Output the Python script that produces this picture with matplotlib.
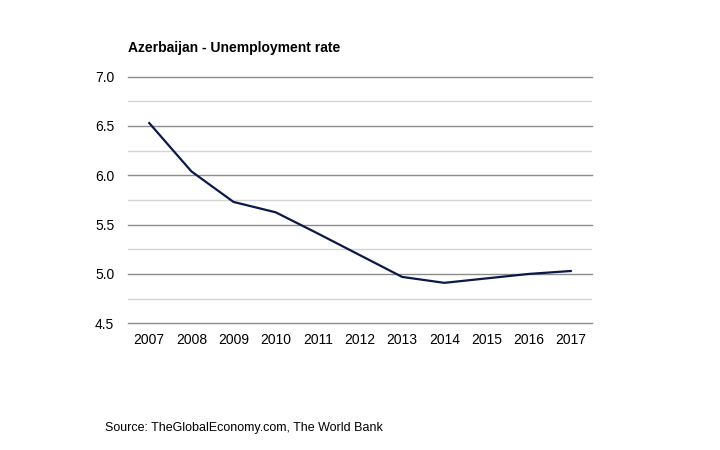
import matplotlib.pyplot as plt
import numpy as np

plt.rcParams['font.family'] = ['Liberation Sans', 'DejaVu Sans']

years = ['2007', '2008', '2009', '2010', '2011', '2012', '2013', '2014', '2015', '2016', '2017']
unemployment = [6.53, 6.04, 5.73, 5.625, 5.41, 5.19, 4.97, 4.91, 4.955, 5.0, 5.03]

fig = plt.figure(figsize=(7.2, 4.5), dpi=100)
ax = fig.add_axes([0.178, 0.2816, 0.644, 0.548])

x = np.arange(len(years))
ax.plot(x, unemployment, color='#0c1848', linewidth=1.6, zorder=3)

ax.set_xlim(-0.5, len(years) - 0.5)
ax.set_ylim(4.5, 7.0)
ax.set_yticks(np.arange(4.5, 7.01, 0.5))
ax.set_yticklabels(['%.1f' % v for v in np.arange(4.5, 7.01, 0.5)])
ax.set_yticks(np.arange(4.75, 7.0, 0.5), minor=True)
ax.set_xticks(x)
ax.set_xticklabels(years)

ax.grid(axis='y', which='major', color='#8c8c8c', linewidth=1.0, clip_on=False)
ax.grid(axis='y', which='minor', color='#d4d4d4', linewidth=1.0)
ax.set_axisbelow(True)
for s in ax.spines.values():
    s.set_visible(False)
ax.tick_params(axis='both', which='both', length=0, labelsize=10, colors='black')
ax.tick_params(axis='y', pad=10)
ax.tick_params(axis='x', pad=7)

fig.text(0.178, 0.885, 'Azerbaijan - Unemployment rate', fontsize=10, fontweight='bold')
fig.text(0.146, 0.043, 'Source: TheGlobalEconomy.com, The World Bank', fontsize=9)

fig.savefig('out.png', dpi=100)
